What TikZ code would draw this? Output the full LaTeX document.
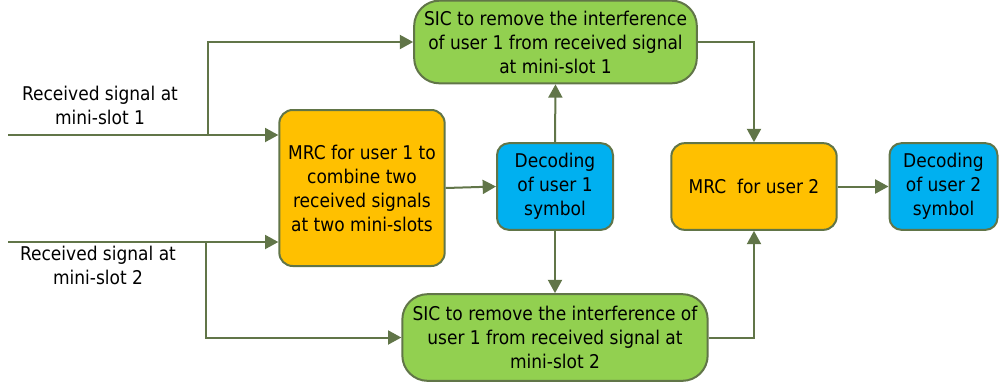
\documentclass[tikz,border=0pt]{standalone}
\usepackage{fontspec}
\setmainfont{DejaVu Sans Condensed}
\usetikzlibrary{arrows.meta}
\definecolor{lineolive}{HTML}{617548}
\definecolor{sicgreen}{HTML}{92D050}
\definecolor{mrcorange}{HTML}{FFC000}
\definecolor{decblue}{HTML}{00B0F0}

\begin{document}
\begin{tikzpicture}[x=0.75pt,y=-0.75pt,
  font=\fontsize{14.2}{18}\selectfont]
\tikzstyle{bloc}=[draw=lineolive, line width=1.5pt, align=center, inner sep=0pt, text=black]
\tikzstyle{sicbox}=[bloc, fill=sicgreen, rounded corners=19pt]
\tikzstyle{mrcbox}=[bloc, fill=mrcorange, rounded corners=10pt]
\tikzstyle{decbox}=[bloc, fill=decblue, rounded corners=9pt]
\tikzstyle{flow}=[draw=lineolive, line width=1.5pt, -{Triangle[length=10pt,width=10.5pt]}]
\useasboundingbox (0,0) rectangle (1000,390);
% blocs
\node[sicbox, minimum width=212pt, minimum height=62pt] (sic1) at (555.5,42)
  {SIC to remove the interference\\of user 1 from received signal\\at mini-slot 1};
\node[mrcbox, minimum width=124pt, minimum height=117pt] (mrc1) at (362,188)
  {MRC for user 1 to\\combine two\\received signals\\at two mini-slots};
\node[decbox, minimum width=87pt, minimum height=65pt] (dec1) at (555,186.5)
  {Decoding\\of user 1\\symbol};
\node[mrcbox, minimum width=124pt, minimum height=65pt] (mrc2) at (754,186.5)
  {MRC\ \ for user 2};
\node[decbox, minimum width=81pt, minimum height=65pt] (dec2) at (943.5,186.5)
  {Decoding\\of user 2\\symbol};
\node[sicbox, minimum width=229pt, minimum height=65pt] (sic2) at (555,337.5)
  {SIC to remove the interference of\\user 1 from received signal at\\mini-slot 2};
% entrees
\node[align=center] (lab1) at (100,105) {Received signal at\\mini-slot 1};
\node[align=center] (lab2) at (98,265) {Received signal at\\mini-slot 2};
\coordinate (in1) at (8,135);
\coordinate (br1) at (208,135);
\coordinate (in2) at (8,242);
\coordinate (br2) at (206,242);
% liaisons
\draw[flow] (in1) -- (in1 -| mrc1.west);
\draw[flow] (br1) |- (sic1.west);
\draw[flow] (in2) -- (in2 -| mrc1.west);
\draw[flow] (br2) |- (sic2.west);
\draw[flow] (mrc1.east) -- (dec1.west);
\draw[flow] (dec1.north) -- (sic1.south);
\draw[flow] (dec1.south) -- (sic2.north);
\draw[flow] (sic1.east) -| (mrc2.north);
\draw[flow] (sic2.east) -| (mrc2.south);
\draw[flow] (mrc2.east) -- (dec2.west);
\end{tikzpicture}
\end{document}
